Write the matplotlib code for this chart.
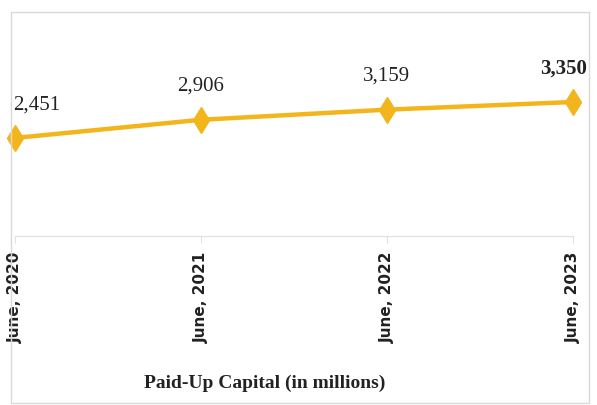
import matplotlib.pyplot as plt
from matplotlib.patches import Rectangle

periods = ["June, 2020", "June, 2021", "June, 2022", "June, 2023"]
capital = [2451, 2906, 3159, 3350]
value_labels = ["2,451", "2,906", "3,159", "3,350"]

W, H = 597, 405
fig = plt.figure(figsize=(W / 100, H / 100), dpi=100)

# light frame around the whole panel
fig.patches.append(Rectangle((11 / W, 2 / H), 578 / W, 391 / H, transform=fig.transFigure,
                             fill=False, edgecolor="#d9d9d9", lw=1.0))

ax = fig.add_axes([15 / W, (H - 236) / H, 558 / W, 216 / H])
x = list(range(len(periods)))
ax.plot(x, capital, color="#F2B61C", lw=3.2, marker="d", markersize=13,
        clip_on=False, zorder=3)

ax.set_xlim(0, len(periods) - 1)
ax.set_ylim(0, 5400)
for side in ["top", "right", "left"]:
    ax.spines[side].set_visible(False)
ax.spines["bottom"].set_color("#e2e2e2")
ax.spines["bottom"].set_linewidth(1.0)
ax.set_yticks([])
ax.set_xticks(x)
ax.set_xticklabels(periods, rotation=90, fontsize=11, fontweight="bold",
                   family="DejaVu Sans", color="#222222")
ax.tick_params(axis="x", length=5, color="#e2e2e2", pad=6)

serif = dict(family="Liberation Serif", color="#222222")
for i, (v, lab) in enumerate(zip(capital, value_labels)):
    ha = "left" if i == 0 else ("right" if i == len(capital) - 1 else "center")
    dx = -1 if i == 0 else (10 if i == len(capital) - 1 else 0)
    ax.annotate(lab, (i, v), xytext=(dx, 24), textcoords="offset points",
                ha=ha, va="center", fontsize=15,
                fontweight="bold" if i == len(capital) - 1 else "normal",
                annotation_clip=False, **serif)

fig.text(265 / W, (H - 383) / H, "Paid-Up Capital (in millions)", ha="center", va="center",
         fontsize=14, fontweight="bold", **serif)

fig.savefig("out.png", dpi=100)
